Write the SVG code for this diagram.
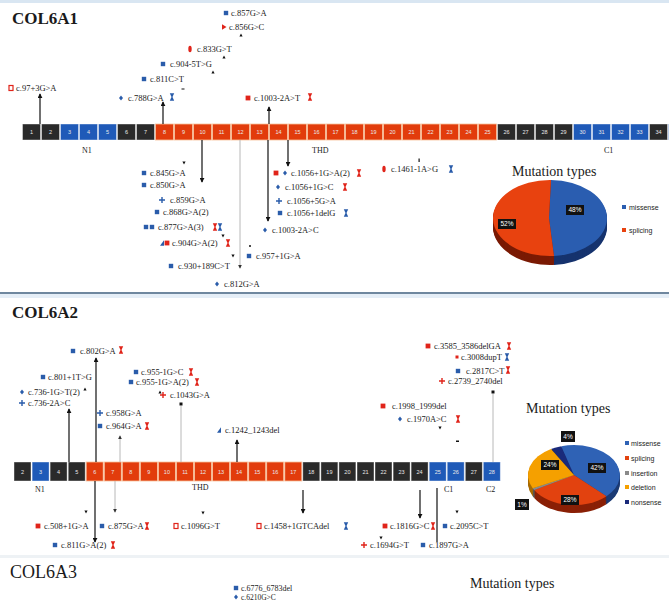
<svg xmlns="http://www.w3.org/2000/svg" width="669" height="603" viewBox="0 0 669 603">
<style>
.t{font-family:"Liberation Serif","DejaVu Serif",serif;font-size:8.5px;fill:#1a1a1a}
.d{font-family:"Liberation Serif","DejaVu Serif",serif;font-size:8px;fill:#222}
.ttl{font-family:"Liberation Serif","DejaVu Serif",serif;font-size:17px;font-weight:bold;fill:#1a1a1a}
.mt{font-family:"Liberation Serif","DejaVu Serif",serif;font-size:14px;fill:#1a1a1a}
.lg{font-family:"Liberation Sans","DejaVu Sans",sans-serif;font-size:7px;fill:#222}
.en{font-family:"Liberation Sans","DejaVu Sans",sans-serif;font-size:5.5px;fill:#e8e8e8;text-anchor:middle}
.pc{font-family:"Liberation Sans","DejaVu Sans",sans-serif;font-size:6.5px;fill:#fff;text-anchor:middle}
.k{fill:#2a2a2a;stroke:#fff;stroke-opacity:.5;stroke-width:.8}
.b{fill:#1f5ab8;stroke:#fff;stroke-opacity:.5;stroke-width:.8}
.r{fill:#e23c0c;stroke:#f8c09a;stroke-width:.8}
.ln{stroke:#111;stroke-width:1.2;fill:none}
.lg2{stroke:#b8b8b8;stroke-width:1;fill:none}
</style>
<defs>
<marker id="ah" viewBox="0 0 6 6" refX="5" refY="3" markerWidth="5" markerHeight="5" orient="auto" markerUnits="userSpaceOnUse"><path d="M0,0 L6,3 L0,6 Z" fill="#111"/></marker>
<marker id="ahg" viewBox="0 0 6 6" refX="5" refY="3" markerWidth="4" markerHeight="4" orient="auto" markerUnits="userSpaceOnUse"><path d="M0,0 L6,3 L0,6 Z" fill="#333"/></marker>
<g id="sqB"><rect x="-2.2" y="-2.2" width="4.4" height="4.4" fill="#2a5caa"/></g>
<g id="sqR"><rect x="-2.4" y="-2.4" width="4.8" height="4.8" fill="#e0241a"/></g>
<g id="sqRo"><rect x="-2" y="-2.5" width="4" height="5" fill="none" stroke="#e0241a" stroke-width="1.2"/></g>
<g id="hgR"><path d="M-2.2,-3.8 H2.2 L0.5,0 L2.2,3.8 H-2.2 L-0.5,0 Z" fill="#e0241a"/></g>
<g id="hgB"><path d="M-2.2,-3.8 H2.2 L0.5,0 L2.2,3.8 H-2.2 L-0.5,0 Z" fill="#2a5caa"/></g>
<g id="plB"><path d="M-3,0 H3 M0,-3 V3" stroke="#2a5caa" stroke-width="1.4"/></g>
<g id="plR"><path d="M-3,0 H3 M0,-3 V3" stroke="#e0241a" stroke-width="1.4"/></g>
<g id="diB"><path d="M0,-2.6 L2,0 L0,2.6 L-2,0 Z" fill="#2a5caa"/></g>
<g id="ovR"><ellipse rx="1.7" ry="3.2" fill="#e0241a"/></g>
<g id="trR"><path d="M-2,-2.8 L2.5,0 L-2,2.8 Z" fill="#e0241a"/></g>
<g id="trB"><path d="M-2,2.8 L2,-2.8 L2,2.8 Z" fill="#2a5caa"/></g>
<g id="tip"><path d="M-1.6,1.4 L0,-1.6 L1.6,1.4 Z" fill="#111"/></g>
<g id="tipd"><path d="M-1.6,-1.4 L0,1.6 L1.6,-1.4 Z" fill="#111"/></g>
<g id="p1d">
<path d="M549,218 L551,180 A57,38 0 0 1 554,255.9 Z" fill="#16336e"/>
<path d="M549,218 L554,255.9 A57,38 0 1 1 551,180 Z" fill="#7a1a04"/>
</g>
<g id="p2d">
<path d="M574,475 L551,449 A46,30 0 0 1 561.3,446.2 Z" fill="#0e1540"/>
<path d="M574,475 L561.3,446.2 A46,30 0 0 1 606.5,496.2 Z" fill="#1b3a74"/>
<path d="M574,475 L606.5,496.2 A46,30 0 0 1 534.2,490 Z" fill="#8a2006"/>
<path d="M574,475 L534.2,490 A46,30 0 0 1 532.7,488.2 Z" fill="#555"/>
<path d="M574,475 L532.7,488.2 A46,30 0 0 1 551,449 Z" fill="#a86a00"/>
</g>
</defs>

<rect width="669" height="603" fill="#fff"/>
<rect x="0" y="0" width="669" height="3" fill="#d9e6f2"/>
<line x1="0" y1="293" x2="669" y2="293" stroke="#3f5f7f" stroke-width="1.6"/>
<rect x="0" y="294" width="669" height="4" fill="#e5eef7"/>
<rect x="0" y="555" width="669" height="3" fill="#eef2f5"/>

<!-- Titles -->
<text class="ttl" x="12" y="24">COL6A1</text>
<text class="ttl" x="12" y="318">COL6A2</text>
<text class="ttl" x="10" y="578" style="font-weight:normal;font-size:18px">COL6A3</text>

<!-- COL6A1 exon bar -->
<g id="col6a1-exons">
<rect class="k" x="22.5" y="124" width="18" height="16"/><text class="en" x="31.5" y="134">1</text>
<rect class="k" x="41.5" y="124" width="18" height="16"/><text class="en" x="50.5" y="134">2</text>
<rect class="b" x="60.5" y="124" width="18" height="16"/><text class="en" x="69.5" y="134">3</text>
<rect class="b" x="79.5" y="124" width="18" height="16"/><text class="en" x="88.5" y="134">4</text>
<rect class="b" x="98.5" y="124" width="18" height="16"/><text class="en" x="107.5" y="134">5</text>
<rect class="k" x="117.5" y="124" width="18" height="16"/><text class="en" x="126.5" y="134">6</text>
<rect class="k" x="136.5" y="124" width="18" height="16"/><text class="en" x="145.5" y="134">7</text>
<rect class="r" x="155.5" y="124" width="18" height="16"/><text class="en" x="164.5" y="134">8</text>
<rect class="r" x="174.5" y="124" width="18" height="16"/><text class="en" x="183.5" y="134">9</text>
<rect class="r" x="193.5" y="124" width="18" height="16"/><text class="en" x="202.5" y="134">10</text>
<rect class="r" x="212.5" y="124" width="18" height="16"/><text class="en" x="221.5" y="134">11</text>
<rect class="r" x="231.5" y="124" width="18" height="16"/><text class="en" x="240.5" y="134">12</text>
<rect class="r" x="250.5" y="124" width="18" height="16"/><text class="en" x="259.5" y="134">13</text>
<rect class="r" x="269.5" y="124" width="18" height="16"/><text class="en" x="278.5" y="134">14</text>
<rect class="r" x="288.5" y="124" width="18" height="16"/><text class="en" x="297.5" y="134">15</text>
<rect class="r" x="307.5" y="124" width="18" height="16"/><text class="en" x="316.5" y="134">16</text>
<rect class="r" x="326.5" y="124" width="18" height="16"/><text class="en" x="335.5" y="134">17</text>
<rect class="r" x="345.5" y="124" width="18" height="16"/><text class="en" x="354.5" y="134">18</text>
<rect class="r" x="364.5" y="124" width="18" height="16"/><text class="en" x="373.5" y="134">19</text>
<rect class="r" x="383.5" y="124" width="18" height="16"/><text class="en" x="392.5" y="134">20</text>
<rect class="r" x="402.5" y="124" width="18" height="16"/><text class="en" x="411.5" y="134">21</text>
<rect class="r" x="421.5" y="124" width="18" height="16"/><text class="en" x="430.5" y="134">22</text>
<rect class="r" x="440.5" y="124" width="18" height="16"/><text class="en" x="449.5" y="134">23</text>
<rect class="r" x="459.5" y="124" width="18" height="16"/><text class="en" x="468.5" y="134">24</text>
<rect class="r" x="478.5" y="124" width="18" height="16"/><text class="en" x="487.5" y="134">25</text>
<rect class="k" x="497.5" y="124" width="18" height="16"/><text class="en" x="506.5" y="134">26</text>
<rect class="k" x="516.5" y="124" width="18" height="16"/><text class="en" x="525.5" y="134">27</text>
<rect class="k" x="535.5" y="124" width="18" height="16"/><text class="en" x="544.5" y="134">28</text>
<rect class="k" x="554.5" y="124" width="18" height="16"/><text class="en" x="563.5" y="134">29</text>
<rect class="b" x="573.5" y="124" width="18" height="16"/><text class="en" x="582.5" y="134">30</text>
<rect class="b" x="592.5" y="124" width="18" height="16"/><text class="en" x="601.5" y="134">31</text>
<rect class="b" x="611.5" y="124" width="18" height="16"/><text class="en" x="620.5" y="134">32</text>
<rect class="b" x="630.5" y="124" width="18" height="16"/><text class="en" x="639.5" y="134">33</text>
<rect class="k" x="649.5" y="124" width="18" height="16"/><text class="en" x="658.5" y="134">34</text>
<rect class="b" x="668.5" y="124" width="18" height="16"/>
<text class="d" x="82" y="153">N1</text>
<text class="d" x="312" y="153">THD</text>
<text class="d" x="604" y="153">C1</text>
</g>

<!-- COL6A2 exon bar -->
<g id="col6a2-exons">
<rect class="k" x="14" y="462" width="17" height="19"/><text class="en" x="22.5" y="473.5">2</text>
<rect class="b" x="32.1" y="462" width="17" height="19"/><text class="en" x="40.6" y="473.5">3</text>
<rect class="k" x="50.1" y="462" width="17" height="19"/><text class="en" x="58.6" y="473.5">4</text>
<rect class="k" x="68.2" y="462" width="17" height="19"/><text class="en" x="76.7" y="473.5">5</text>
<rect class="r" x="86.2" y="462" width="17" height="19"/><text class="en" x="94.7" y="473.5">6</text>
<rect class="r" x="104.3" y="462" width="17" height="19"/><text class="en" x="112.8" y="473.5">7</text>
<rect class="r" x="122.3" y="462" width="17" height="19"/><text class="en" x="130.8" y="473.5">8</text>
<rect class="r" x="140.4" y="462" width="17" height="19"/><text class="en" x="148.9" y="473.5">9</text>
<rect class="r" x="158.4" y="462" width="17" height="19"/><text class="en" x="166.9" y="473.5">10</text>
<rect class="r" x="176.5" y="462" width="17" height="19"/><text class="en" x="185" y="473.5">11</text>
<rect class="r" x="194.5" y="462" width="17" height="19"/><text class="en" x="203" y="473.5">12</text>
<rect class="r" x="212.6" y="462" width="17" height="19"/><text class="en" x="221.1" y="473.5">13</text>
<rect class="r" x="230.6" y="462" width="17" height="19"/><text class="en" x="239.1" y="473.5">14</text>
<rect class="r" x="248.7" y="462" width="17" height="19"/><text class="en" x="257.2" y="473.5">15</text>
<rect class="r" x="266.7" y="462" width="17" height="19"/><text class="en" x="275.2" y="473.5">16</text>
<rect class="r" x="284.8" y="462" width="17" height="19"/><text class="en" x="293.3" y="473.5">17</text>
<rect class="k" x="302.8" y="462" width="17" height="19"/><text class="en" x="311.3" y="473.5">18</text>
<rect class="k" x="320.9" y="462" width="17" height="19"/><text class="en" x="329.4" y="473.5">19</text>
<rect class="k" x="338.9" y="462" width="17" height="19"/><text class="en" x="347.4" y="473.5">20</text>
<rect class="k" x="357" y="462" width="17" height="19"/><text class="en" x="365.5" y="473.5">21</text>
<rect class="k" x="375" y="462" width="17" height="19"/><text class="en" x="383.5" y="473.5">22</text>
<rect class="k" x="393.1" y="462" width="17" height="19"/><text class="en" x="401.6" y="473.5">23</text>
<rect class="k" x="411.1" y="462" width="17" height="19"/><text class="en" x="419.6" y="473.5">24</text>
<rect class="b" x="429.2" y="462" width="17" height="19"/><text class="en" x="437.7" y="473.5">25</text>
<rect class="b" x="447.2" y="462" width="17" height="19"/><text class="en" x="455.7" y="473.5">26</text>
<rect class="k" x="465.3" y="462" width="17" height="19"/><text class="en" x="473.8" y="473.5">27</text>
<rect class="b" x="483.3" y="462" width="17" height="19"/><text class="en" x="491.8" y="473.5">28</text>
<text class="d" x="35" y="492">N1</text>
<text class="d" x="192" y="490">THD</text>
<text class="d" x="444" y="492">C1</text>
<text class="d" x="486" y="492">C2</text>
</g>

<!-- Connectors -->
<g id="connectors">
<line class="ln" x1="40" y1="124" x2="40" y2="94" marker-end="url(#ah)"/>
<line class="ln" x1="163" y1="124" x2="163" y2="102" marker-end="url(#ah)"/>
<line class="ln" x1="269" y1="124" x2="269" y2="107" marker-end="url(#ah)"/>
<line class="ln" x1="202" y1="140" x2="202" y2="182" marker-end="url(#ah)"/>
<line class="lg2" x1="240" y1="140" x2="240" y2="268" marker-end="url(#ahg)"/>
<line class="ln" x1="268" y1="140" x2="268" y2="221" marker-end="url(#ah)"/>
<line class="ln" x1="288" y1="140" x2="288" y2="166" marker-end="url(#ah)"/>
<line class="ln" x1="69" y1="462" x2="69" y2="409" marker-end="url(#ah)"/>
<line class="ln" x1="96" y1="462" x2="96" y2="358" marker-end="url(#ah)"/>
<line class="lg2" x1="120" y1="462" x2="120" y2="436" marker-end="url(#ahg)"/>
<line class="lg2" x1="181" y1="462" x2="181" y2="406"/>
<rect x="179.5" y="402.5" width="3" height="3" fill="#111"/>
<line class="ln" x1="237" y1="462" x2="237" y2="440" marker-end="url(#ah)"/>
<line class="lg2" x1="493" y1="462" x2="493" y2="394"/>
<rect x="491.5" y="390.5" width="3" height="3" fill="#111"/>
<line class="ln" x1="95" y1="481" x2="95" y2="542" marker-end="url(#ah)"/>
<line class="lg2" x1="115" y1="481" x2="115" y2="512" marker-end="url(#ahg)"/>
<line class="ln" x1="303" y1="490" x2="303" y2="513" marker-end="url(#ah)"/>
<line class="ln" x1="420" y1="490" x2="420" y2="518" marker-end="url(#ah)"/>
<line class="ln" x1="437" y1="488" x2="437" y2="542"/>
<use href="#tip" x="241" y="35"/>
<use href="#tip" x="224" y="57"/>
<use href="#tip" x="213" y="72"/>
<rect x="181.5" y="88.5" width="3" height="1" fill="#111"/>
<use href="#tipd" x="184" y="163"/>
<use href="#tipd" x="223" y="236"/>
<use href="#tipd" x="233" y="256"/>
<circle cx="250" cy="246" r="1" fill="#111"/>
<rect x="418.5" y="158.5" width="1.2" height="3.5" fill="#111"/>
<use href="#tip" x="85" y="389"/>
<use href="#tip" x="160" y="392"/>
<use href="#tipd" x="440" y="428"/>
<rect x="456" y="440.5" width="3" height="1.5" fill="#111"/>
<use href="#tipd" x="86" y="512"/>
<use href="#tipd" x="203" y="513"/>
<use href="#tipd" x="457" y="512"/>
<use href="#tipd" x="381" y="538"/>
</g>

<!-- COL6A1 mutations -->
<g id="a1-m1"><use href="#sqRo" x="11" y="88"/><text class="t" x="16" y="90.5">c.97+3G&gt;A</text></g>
<g id="a1-m2"><use href="#sqB" x="226" y="13"/><text class="t" x="231" y="15.5">c.857G&gt;A</text></g>
<g id="a1-m3"><use href="#trR" x="224" y="27"/><text class="t" x="229" y="29.5">c.856G&gt;C</text></g>
<g id="a1-m4"><use href="#ovR" x="190" y="49"/><text class="t" x="197" y="51.5">c.833G&gt;T</text></g>
<g id="a1-m5"><use href="#sqB" x="163" y="64"/><text class="t" x="170" y="66.5">c.904-5T&gt;G</text></g>
<g id="a1-m6"><use href="#sqB" x="144" y="79"/><text class="t" x="150" y="81.5">c.811C&gt;T</text></g>
<g id="a1-m7"><use href="#diB" x="121" y="98"/><text class="t" x="128" y="100.5">c.788G&gt;A</text><use href="#hgB" x="172" y="97"/></g>
<g id="a1-m8"><use href="#sqR" x="248" y="98"/><text class="t" x="254" y="100.5">c.1003-2A&gt;T</text><use href="#hgR" x="310" y="97"/></g>
<g id="a1-m9"><use href="#sqB" x="144" y="173"/><text class="t" x="150" y="175.5">c.845G&gt;A</text></g>
<g id="a1-m10"><use href="#sqB" x="144" y="185"/><text class="t" x="150" y="187.5">c.850G&gt;A</text></g>
<g id="a1-m11"><use href="#plB" x="162" y="200"/><text class="t" x="170" y="202.5">c.859G&gt;A</text></g>
<g id="a1-m12"><use href="#sqB" x="157" y="212"/><text class="t" x="163" y="214.5">c.868G&gt;A(2)</text></g>
<g id="a1-m13"><use href="#sqB" x="146" y="227"/><use href="#sqB" x="152" y="227"/><text class="t" x="158" y="229.5">c.877G&gt;A(3)</text><use href="#hgR" x="215" y="227"/><use href="#hgB" x="220" y="227"/></g>
<g id="a1-m14"><use href="#trB" x="162" y="243"/><use href="#sqR" x="167" y="243"/><text class="t" x="172" y="245.5">c.904G&gt;A(2)</text><use href="#hgR" x="228" y="243"/></g>
<g id="a1-m15"><use href="#sqB" x="171" y="266"/><text class="t" x="178" y="268.5">c.930+189C&gt;T</text></g>
<g id="a1-m16"><use href="#diB" x="217" y="284"/><text class="t" x="224" y="286.5">c.812G&gt;A</text></g>
<g id="a1-m17"><use href="#sqR" x="276" y="173"/><use href="#diB" x="285" y="173"/><text class="t" x="291" y="175.5">c.1056+1G&gt;A(2)</text><use href="#hgR" x="359" y="173"/></g>
<g id="a1-m18"><use href="#diB" x="278" y="187"/><text class="t" x="285" y="189.5">c.1056+1G&gt;C</text><use href="#hgR" x="345" y="187"/></g>
<g id="a1-m19"><use href="#plB" x="279" y="201"/><text class="t" x="287" y="203.5">c.1056+5G&gt;A</text></g>
<g id="a1-m20"><use href="#sqB" x="280" y="213"/><text class="t" x="287" y="215.5">c.1056+1delG</text><use href="#hgB" x="346" y="213"/></g>
<g id="a1-m21"><use href="#diB" x="265" y="230"/><text class="t" x="272" y="232.5">c.1003-2A&gt;C</text></g>
<g id="a1-m22"><use href="#sqB" x="249" y="256"/><text class="t" x="256" y="258.5">c.957+1G&gt;A</text></g>
<g id="a1-m23"><use href="#ovR" x="384" y="169"/><text class="t" x="391" y="171.5">c.1461-1A&gt;G</text><use href="#hgB" x="451" y="169"/></g>

<!-- COL6A1 pie -->
<g id="a1-pie">
<text class="mt" x="512" y="176">Mutation types</text>
<use href="#p1d" y="9"/><use href="#p1d" y="8"/><use href="#p1d" y="7"/><use href="#p1d" y="6"/><use href="#p1d" y="5"/><use href="#p1d" y="4"/><use href="#p1d" y="3"/><use href="#p1d" y="2"/><use href="#p1d" y="1"/>
<path d="M549,218 L551,180 A57,38 0 0 1 554,255.9 Z" fill="#2a5db0"/>
<path d="M549,218 L554,255.9 A57,38 0 1 1 551,180 Z" fill="#e8420f"/>
<rect x="566" y="205" width="18" height="10" fill="#111"/><text class="pc" x="575" y="212.3">48%</text>
<rect x="498" y="219" width="18" height="10" fill="#111"/><text class="pc" x="507" y="226.3">52%</text>
<rect x="622" y="205" width="4" height="4" fill="#2a5db0"/><text class="lg" x="629" y="209.5">missense</text>
<rect x="622" y="228" width="4" height="4" fill="#e8420f"/><text class="lg" x="629" y="232.5">splicing</text>
</g>

<!-- COL6A2 mutations -->
<g id="a2-m1"><use href="#sqB" x="73" y="351"/><text class="t" x="80" y="353.5">c.802G&gt;A</text><use href="#hgR" x="121" y="350"/></g>
<g id="a2-m2"><use href="#sqB" x="43" y="377"/><text class="t" x="48" y="379.5">c.801+1T&gt;G</text></g>
<g id="a2-m3"><use href="#diB" x="22" y="392"/><text class="t" x="28" y="394.5">c.736-1G&gt;T(2)</text></g>
<g id="a2-m4"><use href="#plB" x="22" y="403"/><text class="t" x="28" y="405.5">c.736-2A&gt;C</text></g>
<g id="a2-m5"><use href="#plB" x="100" y="413"/><text class="t" x="106" y="415.5">c.958G&gt;A</text></g>
<g id="a2-m6"><use href="#sqB" x="100" y="426"/><text class="t" x="106" y="428.5">c.964G&gt;A</text><use href="#hgR" x="147" y="426"/></g>
<g id="a2-m7"><use href="#sqB" x="136" y="372"/><text class="t" x="141" y="374.5">c.955-1G&gt;C</text><use href="#hgR" x="191" y="372"/></g>
<g id="a2-m8"><use href="#sqB" x="131" y="382"/><text class="t" x="136" y="384.5">c.955-1G&gt;A(2)</text><use href="#hgR" x="197" y="382"/></g>
<g id="a2-m9"><use href="#plR" x="163" y="395"/><text class="t" x="170" y="397.5">c.1043G&gt;A</text></g>
<g id="a2-m10"><use href="#trB" x="219" y="430"/><text class="t" x="225" y="432.5">c.1242_1243del</text></g>
<g id="a2-m11"><use href="#sqR" x="428" y="346"/><text class="t" x="434" y="348.5">c.3585_3586delGA</text><use href="#hgR" x="509" y="346"/></g>
<g id="a2-m12"><rect x="455.5" y="355.5" width="3" height="3" fill="#e0241a"/><text class="t" x="461" y="359.5">c.3008dupT</text><use href="#hgB" x="507" y="357"/></g>
<g id="a2-m13"><use href="#sqB" x="458" y="371"/><text class="t" x="466" y="373.5">c.2817C&gt;T</text><use href="#hgR" x="508" y="370"/></g>
<g id="a2-m14"><use href="#plR" x="442" y="381"/><text class="t" x="448" y="383.5">c.2739_2740del</text></g>
<g id="a2-m15"><use href="#sqR" x="383" y="406"/><text class="t" x="392" y="408.5">c.1998_1999del</text></g>
<g id="a2-m16"><use href="#diB" x="400" y="419"/><text class="t" x="407" y="421.5">c.1970A&gt;C</text><use href="#hgR" x="458" y="419"/></g>
<g id="a2-m17"><use href="#sqR" x="38" y="526"/><text class="t" x="44" y="528.5">c.508+1G&gt;A</text></g>
<g id="a2-m18"><use href="#sqB" x="102" y="526"/><text class="t" x="108" y="528.5">c.875G&gt;A</text><use href="#hgR" x="147" y="526"/></g>
<g id="a2-m19"><use href="#sqRo" x="176" y="526"/><text class="t" x="181" y="528.5">c.1096G&gt;T</text></g>
<g id="a2-m20"><use href="#sqRo" x="259" y="526"/><text class="t" x="264" y="528.5">c.1458+1GTCAdel</text><use href="#hgB" x="346" y="526"/></g>
<g id="a2-m21"><use href="#sqR" x="385" y="526"/><text class="t" x="390" y="528.5">c.1816G&gt;C</text><use href="#hgR" x="433" y="526"/></g>
<g id="a2-m22"><use href="#sqB" x="445" y="526"/><text class="t" x="450" y="528.5">c.2095C&gt;T</text></g>
<g id="a2-m23"><use href="#sqB" x="55" y="545"/><text class="t" x="61" y="547.5">c.811G&gt;A(2)</text><use href="#hgR" x="113" y="545"/></g>
<g id="a2-m24"><use href="#plR" x="364" y="545"/><text class="t" x="370" y="547.5">c.1694G&gt;T</text></g>
<g id="a2-m25"><use href="#sqB" x="423" y="545"/><text class="t" x="429" y="547.5">c.1897G&gt;A</text></g>

<!-- COL6A2 pie -->
<g id="a2-pie">
<text class="mt" x="526" y="413">Mutation types</text>
<use href="#p2d" y="8"/><use href="#p2d" y="7"/><use href="#p2d" y="6"/><use href="#p2d" y="5"/><use href="#p2d" y="4"/><use href="#p2d" y="3"/><use href="#p2d" y="2"/><use href="#p2d" y="1"/>
<path d="M574,475 L551,449 A46,30 0 0 1 561.3,446.2 Z" fill="#1a2a7a"/>
<path d="M574,475 L561.3,446.2 A46,30 0 0 1 606.5,496.2 Z" fill="#2f62b5"/>
<path d="M574,475 L606.5,496.2 A46,30 0 0 1 534.2,490 Z" fill="#e2420f"/>
<path d="M574,475 L534.2,490 A46,30 0 0 1 532.7,488.2 Z" fill="#8a8a8a"/>
<path d="M574,475 L532.7,488.2 A46,30 0 0 1 551,449 Z" fill="#f5a000"/>
<rect x="561" y="431" width="14" height="11" fill="#111"/><text class="pc" x="568" y="438.8">4%</text>
<rect x="588" y="463" width="18" height="10" fill="#111"/><text class="pc" x="597" y="470.3">42%</text>
<rect x="541" y="460" width="18" height="10" fill="#111"/><text class="pc" x="550" y="467.3">24%</text>
<rect x="561" y="495" width="18" height="10" fill="#111"/><text class="pc" x="570" y="502.3">28%</text>
<rect x="515" y="499" width="14" height="11" fill="#111"/><text class="pc" x="522" y="506.8">1%</text>
<rect x="625" y="441" width="4" height="4" fill="#2f62b5"/><text class="lg" x="631" y="445.5">missense</text>
<rect x="625" y="456" width="4" height="4" fill="#e2420f"/><text class="lg" x="631" y="460.5">splicing</text>
<rect x="625" y="471" width="4" height="4" fill="#8a8a8a"/><text class="lg" x="631" y="475.5">insertion</text>
<rect x="625" y="485" width="4" height="4" fill="#f5a000"/><text class="lg" x="631" y="489.5">deletion</text>
<rect x="625" y="500" width="4" height="4" fill="#1a2a7a"/><text class="lg" x="631" y="504.5">nonsense</text>
</g>

<!-- COL6A3 -->
<g id="a3-m1"><use href="#sqB" x="236" y="588"/><text class="t" x="241" y="590.5" style="font-size:8px">c.6776_6783del</text></g>
<g id="a3-m2"><use href="#diB" x="236" y="597"/><text class="t" x="241" y="599.5" style="font-size:7.5px">c.6210G&gt;C</text></g>
<g id="a3-pie"><text class="mt" x="470" y="588">Mutation types</text></g>
</svg>
